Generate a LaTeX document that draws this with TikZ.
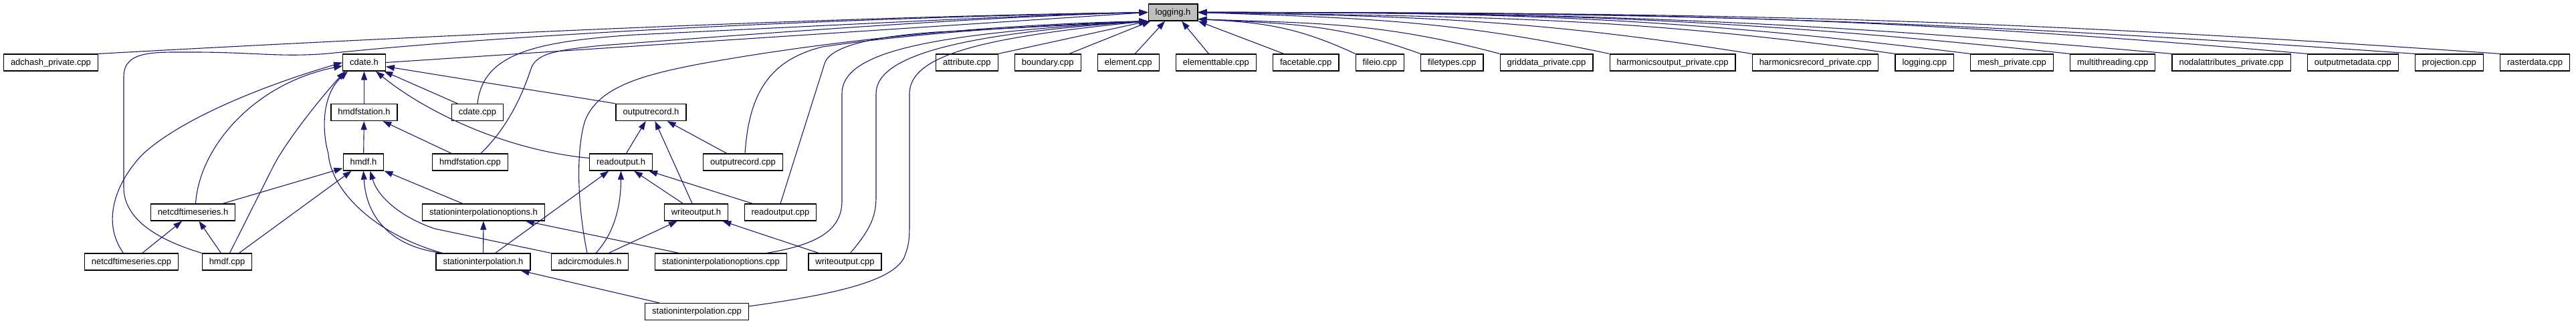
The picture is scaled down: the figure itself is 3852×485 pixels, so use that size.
\documentclass[tikz,border=0pt]{standalone}
\usepackage{fontspec}
\setmainfont{Liberation Sans}
\usepackage{tikz}
\usetikzlibrary{arrows.meta,positioning}
\definecolor{edgeblue}{RGB}{25,25,112}
\definecolor{mainfill}{RGB}{191,191,191}

\begin{document}
\begin{tikzpicture}[
    x=1pt, y=1pt,
    node distance=24pt,
    file/.style={rectangle, draw=black, fill=white, line width=1.2pt,
                 inner xsep=10.5pt, inner ysep=0pt, minimum height=25pt,
                 text height=10pt, text depth=3pt,
                 font=\fontsize{13}{15}\selectfont},
    main/.style={file, fill=mainfill},
    line/.style={draw, edgeblue, line width=1.1pt,
                 -{Triangle[length=13pt,width=9pt]}}
]
    \useasboundingbox (0,0) rectangle (3852,-485);

    % the documented header
    \node [main] (logging) at (1754,-18.5) {logging.h};

    % first row
    \node [file] (adchash) at (76,-93.5)    {adchash\_private.cpp};
    \node [file] (cdate)   at (544.5,-93.5) {cdate.h};
    \node [file, anchor=west] (attribute) at (1399,-93.5) {attribute.cpp};
    \node [file, right=of attribute]   (boundary)    {boundary.cpp};
    \node [file, right=of boundary]    (element)     {element.cpp};
    \node [file, right=of element]     (elemtable)   {elementtable.cpp};
    \node [file, right=of elemtable]   (facetable)   {facetable.cpp};
    \node [file, right=of facetable]   (fileio)      {fileio.cpp};
    \node [file, right=of fileio]      (filetypes)   {filetypes.cpp};
    \node [file, right=of filetypes]   (griddata)    {griddata\_private.cpp};
    \node [file, right=of griddata]    (harmout)     {harmonicsoutput\_private.cpp};
    \node [file, right=of harmout]     (harmrec)     {harmonicsrecord\_private.cpp};
    \node [file, right=of harmrec]     (loggingcpp)  {logging.cpp};
    \node [file, right=of loggingcpp]  (mesh)        {mesh\_private.cpp};
    \node [file, right=of mesh]        (multithread) {multithreading.cpp};
    \node [file, right=of multithread] (nodalattr)   {nodalattributes\_private.cpp};
    \node [file, right=of nodalattr]   (outmeta)     {outputmetadata.cpp};
    \node [file, right=of outmeta]     (projection)  {projection.cpp};
    \node [file, right=of projection]  (rasterdata)  {rasterdata.cpp};

    % lower rows
    \node [file] (hmdfsth)   at (544.5,-168)  {hmdfstation.h};
    \node [file] (cdatecpp)  at (714,-168)    {cdate.cpp};
    \node [file] (orh)       at (973.5,-168)  {outputrecord.h};
    \node [file] (hmdf)      at (543.5,-242.5) {hmdf.h};
    \node [file] (hmdfstcpp) at (703,-242.5)  {hmdfstation.cpp};
    \node [file] (roh)       at (928.5,-242.5) {readoutput.h};
    \node [file] (oprcpp)    at (1111,-242.5) {outputrecord.cpp};
    \node [file] (nctsh)     at (288.5,-317.5) {netcdftimeseries.h};
    \node [file] (sioh)      at (723,-317.5)  {stationinterpolationoptions.h};
    \node [file] (woh)       at (1041,-317.5) {writeoutput.h};
    \node [file] (rocpp)     at (1167,-317.5) {readoutput.cpp};
    \node [file] (nctscpp)   at (196.5,-391.5) {netcdftimeseries.cpp};
    \node [file] (hmdfcpp)   at (339.5,-391.5) {hmdf.cpp};
    \node [file] (sih)       at (722.5,-391.5) {stationinterpolation.h};
    \node [file] (adcirc)    at (882,-391.5)  {adcircmodules.h};
    \node [file] (siocpp)    at (1078,-391.5) {stationinterpolationoptions.cpp};
    \node [file] (wocpp)     at (1263.5,-391.5) {writeoutput.cpp};
    \node [file] (sicpp)     at (1042,-466)   {stationinterpolation.cpp};

    % into logging.h, row one
    \path [line] (attribute.north east) -- (logging.south west);
    \path [line] ([xshift=32]boundary.north) -- ([xshift=4]logging.south west);
    \path [line] ([xshift=10]element.north) -- ([xshift=-12]logging.south);
    \path [line] ([xshift=-11]elemtable.north) -- ([xshift=13]logging.south);
    \path [line] ([xshift=-33]facetable.north) -- (logging.south east);
    \path [line] (fileio.north west) .. controls +(155:96) and +(-3:96) .. ([yshift=3]logging.south east);
    \path [line] (filetypes.north west) .. controls +(160:133) and +(-3:133) .. ([yshift=3]logging.south east);
    \path [line] (griddata.north west) .. controls +(165:180) and +(-2:180) .. ([yshift=3]logging.south east);
    \path [line] (harmout.north west) .. controls +(168:243) and +(-2:243) .. (logging.east);
    \path [line] (harmrec.north west) .. controls +(171:327) and +(-1:327) .. (logging.east);
    \path [line] (loggingcpp.north west) .. controls +(172:410) and +(-1:410) .. (logging.east);
    \path [line] (mesh.north west) .. controls +(173:454) and +(0:454) .. (logging.east);
    \path [line] (multithread.north west) .. controls +(174:512) and +(0:512) .. (logging.east);
    \path [line] (nodalattr.north west) .. controls +(175:572) and +(0:572) .. (logging.east);
    \path [line] (outmeta.north west) .. controls +(175:651) and +(0:651) .. (logging.east);
    \path [line] (projection.north west) .. controls +(176:714) and +(0:714) .. (logging.east);
    \path [line] (rasterdata.north west) .. controls +(176:764) and +(0:764) .. (logging.east);

    % into logging.h, from the left
    \path [line] (adchash.north east) .. controls (700,-50) and (1300,-24) .. (logging.west);
    \path [line] (cdate.east) -- (logging.west);
    \path [line] (hmdfcpp.north west) .. controls (240,-360) and (185,-330) .. (185,-280)
        -- (185,-115) .. controls (185,-75) and (230,-78) .. (290,-78)
        .. controls (380,-78) and (420,-86) .. (491,-80)
        .. controls (800,-48) and (1300,-26) .. (logging.west);
    \path [line] (cdatecpp.north) .. controls (722,-80) and (800,-62) .. (950,-52)
        .. controls (1300,-35) and (1550,-22) .. (logging.west);
    \path [line] ([xshift=16]hmdfstcpp.north) .. controls (765,-185) and (785,-130) .. (795,-100)
        .. controls (805,-80) and (830,-75) .. (900,-68)
        .. controls (1200,-45) and (1500,-24) .. (logging.west);
    \path [line] ([xshift=-4]adcirc.north) .. controls (862,-300) and (862,-220) .. (875,-180)
        .. controls (895,-130) and (960,-112) .. (1050,-95)
        .. controls (1300,-50) and (1550,-35) .. (logging.south west);
    \path [line] ([xshift=3]oprcpp.north) .. controls (1120,-140) and (1150,-90) .. (1230,-70)
        .. controls (1400,-45) and (1600,-36) .. (logging.south west);
    \path [line] (rocpp.north) -- (1233,-95) .. controls (1241,-70) and (1300,-55) .. (1400,-48)
        .. controls (1550,-40) and (1650,-35) .. (logging.south west);
    \path [line] ([xshift=68]siocpp.north) .. controls (1230,-365) and (1259,-340) .. (1259,-300)
        -- (1259,-140) .. controls (1259,-75) and (1400,-50) .. (logging.south west);
    \path [line] ([xshift=8]wocpp.north) .. controls (1300,-345) and (1310,-325) .. (1310,-295)
        -- (1310,-140) .. controls (1310,-80) and (1450,-50) .. (logging.south west);
    \path [line] ([yshift=8]sicpp.east) .. controls (1250,-440) and (1335,-420) .. (1352,-385)
        .. controls (1360,-365) and (1360,-355) .. (1360,-330)
        -- (1360,-140) .. controls (1360,-80) and (1480,-55) .. (logging.south west);

    % into cdate.h
    \path [line] ([xshift=-12]nctscpp.north) .. controls (150,-330) and (175,-270) .. (214,-230)
        .. controls (280,-170) and (420,-120) .. (cdate.west);
    \path [line] ([xshift=4]nctsh.north) .. controls (298,-220) and (380,-125) .. ([yshift=-5]cdate.west);
    \path [line] ([xshift=4]hmdfcpp.north) -- (408,-250) .. controls (428,-210) and (485,-140)
        .. ([xshift=4]cdate.south west);
    \path [line] ([xshift=10]sih.north west) .. controls (560,-350) and (495,-285) .. (491,-230)
        .. controls (480,-190) and (483,-140) .. ([xshift=8]cdate.south west);
    \path [line] (hmdfsth) -- (cdate);
    \path [line] (cdatecpp) -- (cdate);
    \path [line] ([yshift=-7]roh.north west) .. controls (760,-225) and (640,-170)
        .. ([xshift=-15]cdate.south east);
    \path [line] (orh.north west) -- ([yshift=-6]cdate.east);

    % into hmdfstation.h and hmdf.h
    \path [line] (hmdf) -- (hmdfsth);
    \path [line] (hmdfstcpp) -- (hmdfsth);
    \path [line] (nctsh) -- (hmdf);
    \path [line] (hmdfcpp) -- (hmdf);
    \path [line] ([xshift=10]sih.north west) .. controls (590,-370) and (548,-330) .. (hmdf.south);
    \path [line] (adcirc.north west) -- (650,-342) .. controls (600,-325) and (565,-295)
        .. ([xshift=10]hmdf.south);
    \path [line] (sioh) -- (hmdf);

    % into netcdftimeseries.h
    \path [line] (nctscpp) -- (nctsh);
    \path [line] (hmdfcpp) -- (nctsh);

    % into outputrecord.h and readoutput.h
    \path [line] (roh) -- (orh);
    \path [line] (woh) -- (orh);
    \path [line] (oprcpp) -- (orh);
    \path [line] (sih) -- (roh);
    \path [line] ([xshift=9]adcirc.north) .. controls (922,-345) and (928.5,-300) .. (roh.south);
    \path [line] (woh) -- (roh);
    \path [line] (rocpp) -- (roh);

    % into the remaining headers
    \path [line] (sih) -- (sioh);
    \path [line] (siocpp) -- (sioh);
    \path [line] (adcirc) -- (woh);
    \path [line] (wocpp) -- (woh);
    \path [line] (sicpp) -- (sih);
\end{tikzpicture}
\end{document}
